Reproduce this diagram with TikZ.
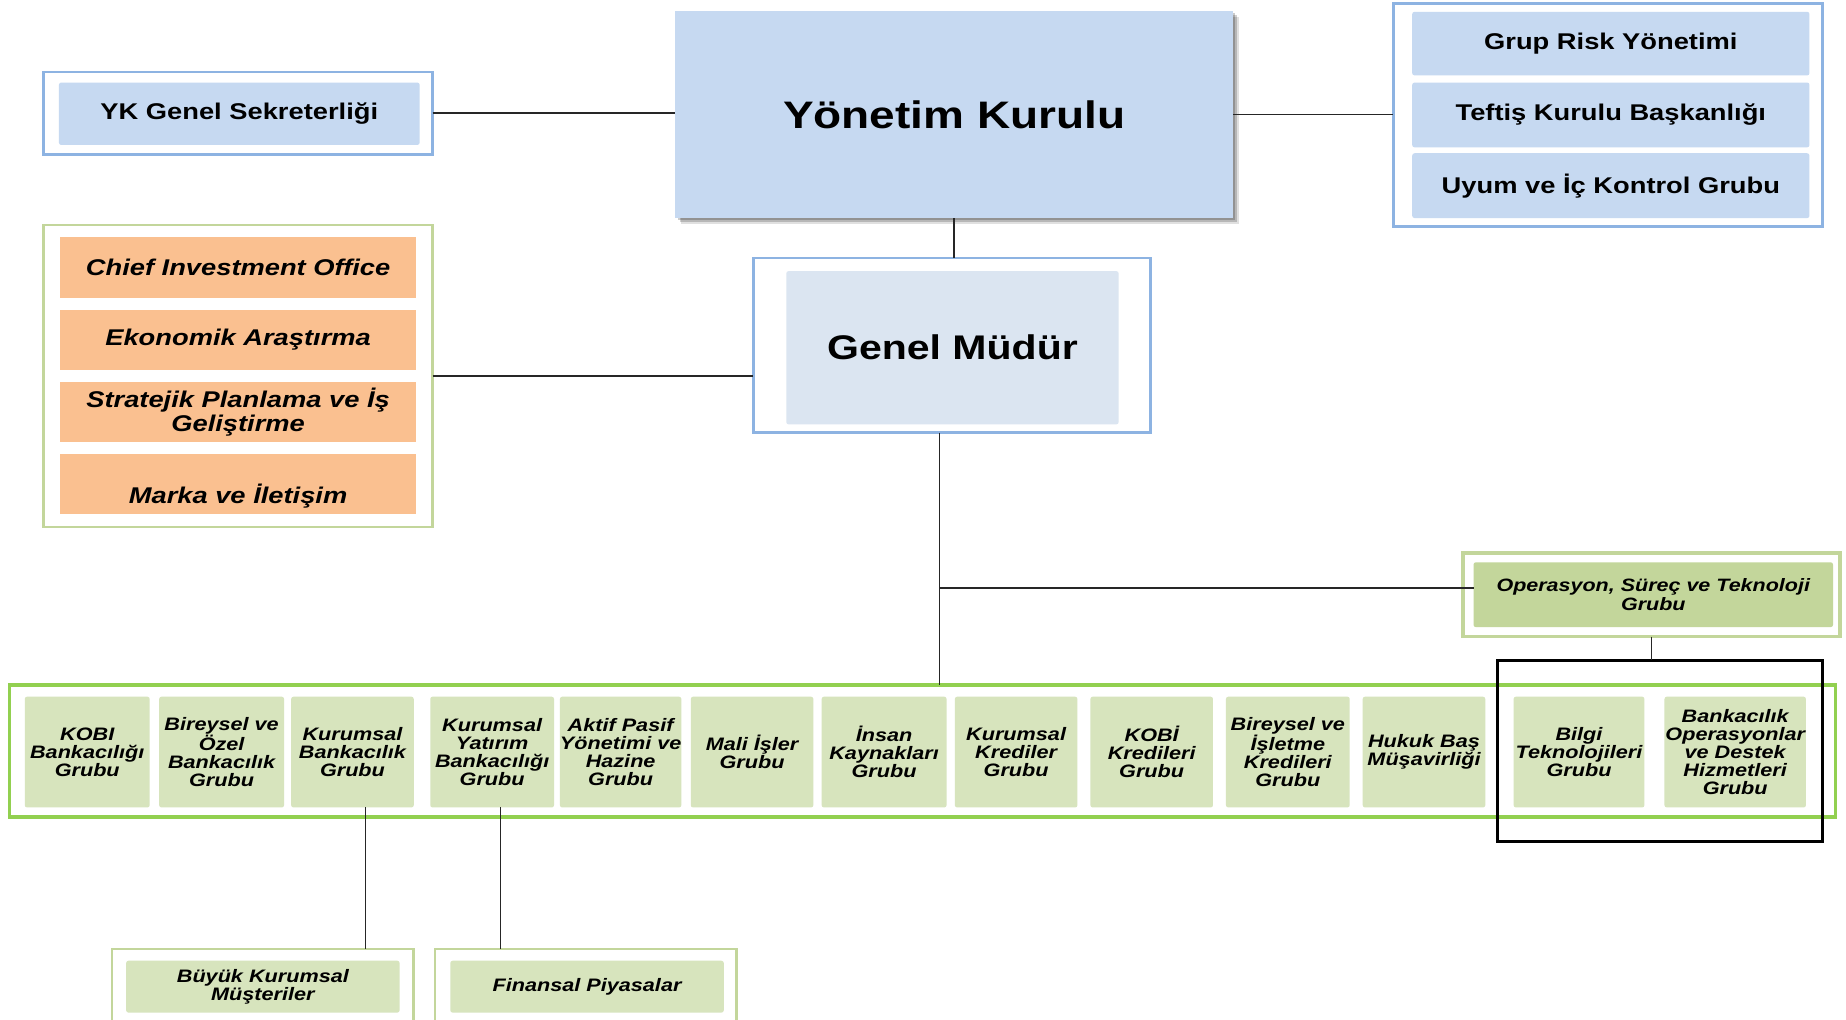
\documentclass[tikz,border=0pt]{standalone}
\usepackage{fontspec}
\setmainfont{Liberation Sans}[FakeStretch=1.2]
\usetikzlibrary{shadows}
\definecolor{bfill}{HTML}{C6D9F1}
\definecolor{bfilltwo}{HTML}{DBE5F1}
\definecolor{bline}{HTML}{8DB3E2}
\definecolor{ofill}{HTML}{FAC090}
\definecolor{gfill}{HTML}{D7E4BD}
\definecolor{gfilltwo}{HTML}{C3D69B}
\definecolor{gline}{HTML}{C3D69B}
\definecolor{glinetwo}{HTML}{92D050}
\definecolor{conn}{HTML}{262626}
\newcommand\bx[7]{\node[#6, minimum width={#4pt-#2pt}, minimum height={#5pt-#3pt}] (#1) at ({(#2+#4)/2},{(#3+#5)/2}) {#7};}
\tikzset{
  every node/.style={inner sep=0pt, outer sep=0pt, align=center},
  grp/.style={draw=#1, line width=2.2pt, fill=white},
  ibox/.style={fill=#1, rounded corners=2pt},
  obox/.style={fill=ofill},
  conline/.style={draw=conn, line width=1.4pt},
  softshadow/.style={drop shadow={shadow xshift=5pt, shadow yshift=-5pt, opacity=0.12, fill=black},
                     drop shadow={shadow xshift=3.5pt, shadow yshift=-3.5pt, opacity=0.18, fill=black},
                     drop shadow={shadow xshift=2pt, shadow yshift=-2pt, opacity=0.2, fill=black}},
  tbig/.style={font=\fontsize{32.5}{36}\selectfont\bfseries},
  tgm/.style={font=\fontsize{29}{33}\selectfont\bfseries},
  tmid/.style={font=\fontsize{19.3}{21}\selectfont\bfseries},
  tmidi/.style={font=\fontsize{19.3}{20.5}\selectfont\bfseries\itshape},
  tops/.style={font=\fontsize{15.2}{16}\selectfont\bfseries\itshape},
  tsmall/.style={font=\fontsize{15.3}{15.4}\selectfont\bfseries\itshape},
  gbox/.style={ibox=gfill, tsmall},
}
\begin{document}
\begin{tikzpicture}[x=1pt,y=-1pt]
\fill[white] (0,0) rectangle (1566,864.5);
\useasboundingbox (0,0) rectangle (1566,864.5);
% top
\bx{yk}{37}{61}{367}{131}{grp=bline}{}
\bx{yki}{50}{70}{356}{123}{ibox=bfill, tmid}{YK Genel Sekreterliği}
\bx{yon}{573}{9}{1046}{185}{fill=bfill, tbig, softshadow}{Yönetim Kurulu}
\bx{rg}{1182}{3}{1546}{192}{grp=bline}{}
\bx{ra}{1198}{10}{1535}{64}{ibox=bfill, tmid}{Grup Risk Yönetimi}
\bx{rb}{1198}{70}{1535}{125}{ibox=bfill, tmid}{Teftiş Kurulu Başkanlığı}
\bx{rc}{1198}{130}{1535}{185}{ibox=bfill, tmid}{Uyum ve İç Kontrol Grubu}
\bx{gm}{639}{219}{976}{367}{grp=bline}{}
\bx{gmi}{667}{230}{949}{360}{ibox=bfilltwo, tgm}{Genel Müdür}
% left group
\bx{lg}{37}{191}{367}{447}{grp=gline}{}
\bx{oa}{51}{201}{353}{253}{obox, tmidi}{Chief Investment Office}
\bx{ob}{51}{263}{353}{314}{obox, tmidi}{Ekonomik Araştırma}
\bx{oc}{51}{324}{353}{375}{obox, tmidi}{Stratejik Planlama ve İş\\Geliştirme}
\bx{od}{51}{385}{353}{436}{obox, tmidi}{\strut\\Marka ve İletişim}
% operasyon
\bx{ops}{1241}{469}{1561}{540}{grp=gline, line width=3pt}{}
\bx{opsi}{1250}{477}{1555}{532}{ibox=gfilltwo, tops}{Operasyon, Süreç ve Teknoloji\\Grubu}
% bottom row
\bx{row}{8}{581}{1557}{693}{grp=glinetwo, line width=3pt}{}
\bx{ba}{21}{591}{127}{685}{gbox}{KOBI\\Bankacılığı\\Grubu}
\bx{bb}{135}{591}{241}{685}{gbox}{Bireysel ve\\Özel\\Bankacılık\\Grubu}
\bx{bc}{247}{591}{351}{685}{gbox}{Kurumsal\\Bankacılık\\Grubu}
\bx{bd}{365}{591}{470}{685}{gbox}{Kurumsal\\Yatırım\\Bankacılığı\\Grubu}
\bx{be}{475}{591}{578}{685}{gbox}{Aktif Pasif\\Yönetimi ve\\Hazine\\Grubu}
\bx{bf}{586}{591}{690}{685}{gbox}{Mali İşler\\Grubu}
\bx{bg}{697}{591}{803}{685}{gbox}{İnsan\\Kaynakları\\Grubu}
\bx{bh}{810}{591}{914}{685}{gbox}{Kurumsal\\Krediler\\Grubu}
\bx{bi}{925}{591}{1029}{685}{gbox}{KOBİ\\Kredileri\\Grubu}
\bx{bj}{1040}{591}{1145}{685}{gbox}{Bireysel ve\\İşletme\\Kredileri\\Grubu}
\bx{bk}{1156}{591}{1260}{685}{gbox}{Hukuk Baş\\Müşavirliği}
\bx{bl}{1284}{591}{1395}{685}{gbox}{Bilgi\\Teknolojileri\\Grubu}
\bx{bm}{1412}{591}{1532}{685}{gbox}{Bankacılık\\Operasyonlar\\ve Destek\\Hizmetleri\\Grubu}
\bx{blk}{1270}{560}{1546}{714}{draw=black, line width=2.5pt}{}
% bottom sub boxes
\bx{bkm}{95}{805}{351}{880}{grp=gline}{}
\bx{bkmi}{107}{815}{339}{859}{gbox}{Büyük Kurumsal\\Müşteriler}
\bx{fp}{369}{805}{625}{880}{grp=gline}{}
\bx{fpi}{382}{815}{614}{859}{gbox}{Finansal Piyasalar}
% connectors
\coordinate (jn) at (797,499);
\draw[conline] (yk.east) -- (yk.east -| yon.west);
\draw[conline] (yon.east) -- (yon.east -| rg.west);
\draw[conline] (yon.south) -- (yon.south |- gm.north);
\draw[conline] (lg.east) -- (lg.east -| gm.west);
\draw[conline] (gm.south -| jn) -- (jn |- row.north);
\draw[conline] (jn) -- (jn -| opsi.west);
\draw[conline] (ops.south) -- (ops.south |- blk.north);
\draw[conline] ([xshift=11pt]bc.south) -- ([xshift=11pt]bc.south |- bkm.north);
\draw[conline] ([xshift=7pt]bd.south) -- ([xshift=7pt]bd.south |- fp.north);
\end{tikzpicture}
\end{document}
